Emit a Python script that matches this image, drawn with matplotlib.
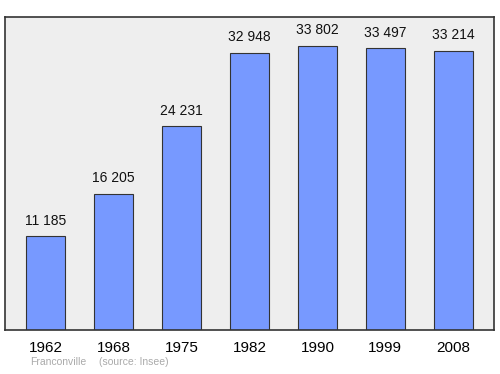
import matplotlib
matplotlib.use("Agg")
import matplotlib.pyplot as plt

years = ["1962", "1968", "1975", "1982", "1990", "1999", "2008"]
population = [11185, 16205, 24231, 32948, 33802, 33497, 33214]
labels = ["11 185", "16 205", "24 231", "32 948", "33 802", "33 497", "33 214"]

plt.rcParams['font.family'] = ['Liberation Sans', 'DejaVu Sans']

fig = plt.figure(figsize=(5, 3.74), dpi=100)
ax = fig.add_axes([0.01, 0.1176, 0.978, 0.837])
ax.set_facecolor("#eeeeee")

x = list(range(len(years)))
ax.bar(x, population, width=0.57, color="#7799ff", edgecolor="#333333", linewidth=0.8, zorder=2)
for xi, v, lab in zip(x, population, labels):
    ax.annotate(lab, (xi, v), xytext=(0, 6), textcoords="offset points",
                ha="center", va="bottom", fontsize=10, color="#111111")

ax.set_xlim(-0.6, 6.6)
ax.set_ylim(0, 37200)
ax.set_xticks(x)
ax.set_xticklabels(years, fontsize=11)
ax.tick_params(axis="x", length=0, pad=8)
ax.set_yticks([])
for s in ax.spines.values():
    s.set_color("#333333")
    s.set_linewidth(1.2)

fig.text(0.06, 0.024, "Franconville", fontsize=7.5, color="#aaaaaa")
fig.text(0.198, 0.024, "(source: Insee)", fontsize=7.5, color="#aaaaaa")

fig.savefig("out.png", dpi=100)
